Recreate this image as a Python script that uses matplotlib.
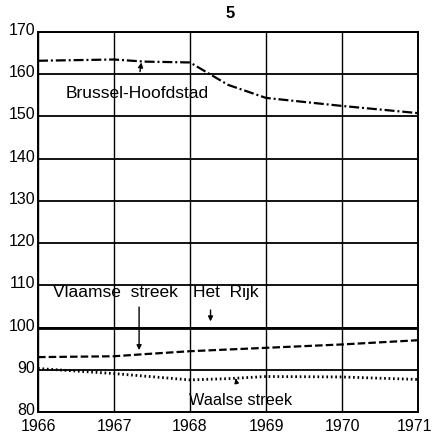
import numpy as np
from matplotlib import pyplot as plt
import matplotlib.transforms as mtransforms

plt.rcParams['font.family'] = ['Liberation Sans', 'DejaVu Sans']

years = [1966, 1967, 1967.4, 1968, 1968.5, 1969, 1970, 1971]
brussel = [163.2, 163.5, 163.0, 162.8, 157.5, 154.4, 152.5, 150.8]
vlaamse = [93.0, 93.2, 93.7, 94.4, 94.8, 95.2, 96.0, 97.0]
waalse = [90.3, 89.1, 88.5, 87.6, 87.9, 88.4, 88.3, 87.7]
rijk = [100, 100, 100, 100, 100, 100, 100, 100]

x_ticks = [1966, 1967, 1968, 1969, 1970, 1971]
y_ticks = [80, 90, 100, 110, 120, 130, 140, 150, 160, 170]

fig = plt.figure(figsize=(4.32, 4.35), dpi=100)
ax = fig.add_axes([0.088, 0.0506, 0.8796, 0.8734])

# raster
for yt in y_ticks:
    ax.axhline(yt, color='black', lw=1.3, zorder=1)
for xt in x_ticks:
    ax.axvline(xt, color='black', lw=1.0, zorder=1)

ax.plot(years, rijk, color='black', lw=2.0, zorder=2)
ax.plot(years, brussel, color='black', lw=1.6, ls=(0, (4.5, 1.3, 0.9, 1.3)), zorder=3)
ax.plot(years, vlaamse, color='black', lw=1.6, ls=(0, (3.4, 1.4)), zorder=3)
ax.plot(years, waalse, color='black', lw=2.0, ls=(0, (0.6, 1.0)), zorder=3)

ax.set_xlim(1966, 1971)
ax.set_ylim(80, 170)
ax.set_xticks(x_ticks)
ax.set_yticks(y_ticks)
ax.tick_params(length=0, labelsize=11.5)
ax.tick_params(axis='x', pad=4)
ax.tick_params(axis='y', pad=2)
up = mtransforms.ScaledTranslation(0, 4 / 100, fig.dpi_scale_trans)
for lbl in ax.get_yticklabels():
    lbl.set_transform(lbl.get_transform() + up)
left = mtransforms.ScaledTranslation(-4 / 100, 0, fig.dpi_scale_trans)
last = ax.get_xticklabels()[-1]
last.set_transform(last.get_transform() + left)
for s in ax.spines.values():
    s.set_linewidth(1.4)

arr = dict(arrowstyle='-|>', color='black', lw=1.0, mutation_scale=7)
ax.annotate('Brussel-Hoofdstad', xy=(1967.36, 162.8), xytext=(1967.3, 155.6),
            ha='center', va='center', fontsize=12.5,
            arrowprops=dict(arrowstyle='-|>', color='black', lw=1.0, mutation_scale=7,
                            shrinkA=8, shrinkB=0))
ax.text(1966.2, 108.5, 'Vlaamse  streek', ha='left', va='center', fontsize=12.5)
ax.annotate('', xy=(1967.33, 94.0), xytext=(1967.33, 105.5), arrowprops=arr)
ax.text(1968.47, 108.5, 'Het  Rijk', ha='center', va='center', fontsize=12.5)
ax.annotate('', xy=(1968.27, 100.8), xytext=(1968.27, 104.8), arrowprops=arr)
ax.annotate('Waalse streek', xy=(1968.6, 87.9), xytext=(1968.66, 83.0),
            ha='center', va='center', fontsize=11.7,
            arrowprops=dict(arrowstyle='-|>', color='black', lw=1.0, mutation_scale=6,
                            shrinkA=7, shrinkB=0))

fig.text(0.532, 0.968, '5', ha='center', va='center', fontsize=12, fontweight='bold')

fig.savefig('out.png', dpi=100)
